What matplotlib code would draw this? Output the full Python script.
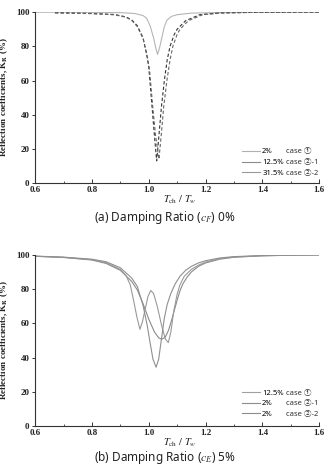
import matplotlib.pyplot as plt
from matplotlib.lines import Line2D
from matplotlib.ticker import MultipleLocator

plt.rcParams['mathtext.fontset'] = 'stix'

# ---- (a) damping ratio 0% ----
xa_1 = [0.60, 0.70, 0.80, 0.90, 0.95, 0.98, 0.993, 1.005, 1.017, 1.025, 1.031,
        1.038, 1.046, 1.055, 1.064, 1.08, 1.10, 1.15, 1.25, 1.40, 1.60]
ya_1 = [99.9, 99.9, 99.8, 99.7, 99.2, 98.0, 96.3, 92.0, 85.0, 79.0, 75.3,
        79.0, 85.0, 91.5, 95.3, 97.5, 98.5, 99.4, 99.8, 99.9, 100.0]

xa_2 = [0.67, 0.80, 0.88, 0.92, 0.94, 0.96, 0.98, 0.993, 1.000, 1.011, 1.020,
        1.028, 1.036, 1.045, 1.055, 1.065, 1.075, 1.09, 1.10, 1.13, 1.18, 1.25,
        1.35, 1.60]
ya_2 = [99.6, 99.2, 98.6, 97.2, 95.5, 92.0, 85.0, 75.0, 68.0, 46.0, 28.0,
        13.0, 28.0, 45.0, 60.0, 72.0, 80.0, 87.0, 90.0, 95.0, 98.5, 99.5,
        99.8, 100.0]

xa_3 = [0.67, 0.80, 0.88, 0.92, 0.94, 0.96, 0.98, 0.995, 1.003, 1.014, 1.024,
        1.036, 1.044, 1.053, 1.064, 1.075, 1.085, 1.10, 1.11, 1.14, 1.19, 1.26,
        1.35, 1.60]
ya_3 = [99.6, 99.1, 98.4, 97.0, 95.2, 91.5, 84.5, 74.0, 66.0, 45.0, 28.0,
        14.0, 28.0, 45.0, 60.0, 72.0, 80.0, 87.0, 90.0, 95.0, 98.5, 99.5,
        99.8, 100.0]

labels_a = ['2%', '12.5%', '31.5%']
cases_a = ['case \u2460', 'case \u2461-1', 'case \u2461-2']

# ---- (b) damping ratio 5% ----
xb_1 = [0.60, 0.70, 0.80, 0.85, 0.90, 0.94, 0.96, 0.98, 1.00, 1.02, 1.035,
        1.046, 1.058, 1.07, 1.08, 1.09, 1.10, 1.11, 1.12, 1.135, 1.15, 1.175,
        1.20, 1.25, 1.30, 1.40, 1.50, 1.60]
yb_1 = [99.2, 98.5, 97.0, 95.0, 91.0, 84.5, 79.5, 71.5, 62.5, 55.0, 51.5,
        50.7, 51.8, 56.0, 61.5, 67.5, 73.5, 79.0, 83.0, 87.0, 90.0, 93.3,
        95.3, 97.5, 98.6, 99.5, 99.8, 100.0]

xb_2 = [0.60, 0.70, 0.80, 0.85, 0.90, 0.92, 0.935, 0.946, 0.958, 0.969, 0.978,
        0.987, 0.997, 1.007, 1.017, 1.03, 1.045, 1.058, 1.069, 1.078, 1.088,
        1.10, 1.11, 1.125, 1.15, 1.175, 1.20, 1.25, 1.30, 1.40, 1.50, 1.60]
yb_2 = [99.2, 98.6, 97.2, 95.5, 91.5, 88.0, 82.5, 74.0, 64.0, 56.5, 61.0,
        67.8, 75.5, 79.2, 77.5, 70.0, 59.0, 51.0, 48.7, 55.0, 67.0,
        77.0, 82.5, 87.5, 91.5, 94.0, 95.8, 97.8, 98.8, 99.5, 99.8, 100.0]

xb_3 = [0.60, 0.70, 0.80, 0.85, 0.90, 0.94, 0.96, 0.98, 0.995, 1.005, 1.015,
        1.026, 1.035, 1.045, 1.055, 1.065, 1.078, 1.093, 1.11, 1.13, 1.15,
        1.175, 1.20, 1.25, 1.30, 1.40, 1.50, 1.60]
yb_3 = [99.3, 98.7, 97.5, 96.0, 92.5, 86.5, 81.5, 70.5, 58.5, 48.5, 39.0,
        34.3, 39.0, 51.0, 63.0, 71.0, 77.5, 83.0, 87.5, 91.0, 93.3,
        95.3, 96.6, 98.2, 99.0, 99.6, 99.8, 100.0]

labels_b = ['12.5%', '2%', '2%']
cases_b = ['case \u2460', 'case \u2461-1', 'case \u2461-2']

x_ticks = [0.6, 0.8, 1.0, 1.2, 1.4, 1.6]
y_ticks = [0, 20, 40, 60, 80, 100]

SERIF = 'Liberation Serif'
SANS = ['Noto Sans', 'Noto Sans CJK JP', 'DejaVu Sans']

fig = plt.figure(figsize=(3.25, 4.66), dpi=100)
ax1 = fig.add_axes([0.108, 0.607, 0.874, 0.367])
ax2 = fig.add_axes([0.108, 0.086, 0.874, 0.367])


def style_axes(ax):
    ax.set_xlim(0.6, 1.6)
    ax.set_ylim(0, 100)
    for s in ['top', 'right']:
        ax.spines[s].set_visible(False)
    for s in ['left', 'bottom']:
        ax.spines[s].set_linewidth(0.8)
        ax.spines[s].set_color('#333333')
    ax.set_xticks(x_ticks)
    ax.set_yticks(y_ticks)
    ax.xaxis.set_minor_locator(MultipleLocator(0.1))
    ax.tick_params(axis='x', which='major', direction='in', length=3,
                   width=0.7, pad=2, color='#333333')
    ax.tick_params(axis='x', which='minor', direction='in', length=1.5,
                   width=0.6, color='#333333')
    ax.tick_params(axis='y', which='major', direction='out', length=2.5,
                   width=0.7, pad=1.5, color='#333333')
    ax.set_xticklabels(['%.1f' % v for v in x_ticks])
    for lab in ax.get_xticklabels() + ax.get_yticklabels():
        lab.set_fontfamily(SERIF)
        lab.set_fontweight('bold')
        lab.set_fontsize(6.5)
        lab.set_color('#222222')
    ax.set_ylabel(r'Reflection coefficients, K$_{\mathbf{R}}$ (%)',
                  fontfamily=SERIF, fontweight='bold', fontsize=6.5,
                  color='#222222')
    ax.yaxis.set_label_coords(-0.088, 0.5)
    ax.set_xlabel(r'$T_{\mathrm{ch}}\ /\ T_{w}$', fontsize=7.5, color='#222222')
    ax.xaxis.set_label_coords(0.51, -0.06)


def add_legend(ax, labels, cases, colors, y0):
    handles = [Line2D([], [], color=c, lw=0.8) for c in colors]
    leg = ax.legend(handles, labels, loc='upper left',
                    bbox_to_anchor=(0.728, y0), frameon=False,
                    prop={'family': SANS, 'size': 5.5},
                    handlelength=2.4, handletextpad=0.25,
                    labelspacing=0.45, borderaxespad=0, borderpad=0)
    fig.canvas.draw()
    inv = ax.transAxes.inverted()
    for t, case in zip(leg.get_texts(), cases):
        bb = t.get_window_extent()
        yc = inv.transform(((bb.x0 + bb.x1) / 2, (bb.y0 + bb.y1) / 2))[1]
        ax.text(0.885, yc, case, transform=ax.transAxes, ha='left',
                va='center', fontsize=5.5, family=SANS, color='#333333')


# panel (a)
style_axes(ax1)
ax1.plot(xa_1, ya_1, color='#b5b5b5', lw=0.8)
ax1.plot(xa_2, ya_2, color='#333333', lw=0.8, ls=(0, (3, 2)))
ax1.plot(xa_3, ya_3, color='#666666', lw=0.8, ls=(0, (3, 2)))
add_legend(ax1, labels_a, cases_a, ['#b0b0b0', '#8c8c8c', '#9a9a9a'], 0.205)

# panel (b)
style_axes(ax2)
ax2.plot(xb_1, yb_1, color='#8a8a8a', lw=0.8)
ax2.plot(xb_2, yb_2, color='#9a9a9a', lw=0.8)
ax2.plot(xb_3, yb_3, color='#8f8f8f', lw=0.8)
add_legend(ax2, labels_b, cases_b, ['#a0a0a0', '#8c8c8c', '#8c8c8c'], 0.215)

fig.text(0.508, 0.534, r'(a) Damping Ratio ($c_F$) 0%', ha='center',
         va='center', fontsize=8.5, family=SANS, color='#222222')
fig.text(0.508, 0.019, r'(b) Damping Ratio ($c_E$) 5%', ha='center',
         va='center', fontsize=8.5, family=SANS, color='#222222')

fig.savefig('out.png', dpi=100, facecolor='white')
